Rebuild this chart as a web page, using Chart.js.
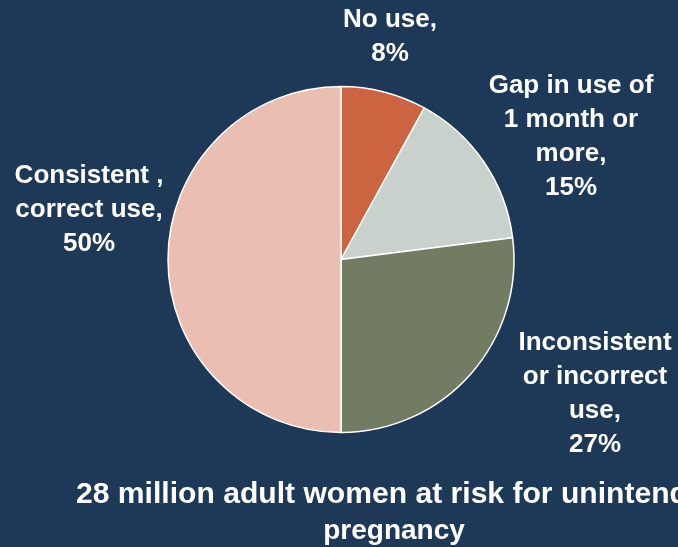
<!DOCTYPE html>
<html>
<head>
<meta charset="utf-8">
<script src="https://cdn.jsdelivr.net/npm/chart.js@4/dist/chart.umd.min.js"></script>
<style>
  html, body { margin: 0; padding: 0; background: #1e3957; }
  #wrap { width: 678px; height: 547px; position: relative; }
</style>
</head>
<body>
<div id="wrap"><canvas id="c" width="678" height="547"></canvas></div>
<script>
// Contraception use among adult women at risk for unintended pregnancy
const categories = [
  ["No use,"],
  ["Gap in use of", "1 month or", "more,"],
  ["Inconsistent", "or incorrect", "use,"],
  ["Consistent ,", "correct use,"]
];
const shares = [8, 15, 27, 50];
const sliceColors = ["#cd6441", "#c9d1cc", "#727c63", "#eabfb2"];
const titleLines = ["28 million adult women at risk for unintended", "pregnancy"];

// label anchors: centre x and baseline of first line
const labelAnchors = [
  { x: 390, y: 27 },
  { x: 571, y: 93 },
  { x: 595, y: 350 },
  { x: 89, y: 183 }
];
const LINE_H = 34;
const FONT = 'bold 26px "Liberation Sans", Arial, sans-serif';

const labelPlugin = {
  id: 'sliceLabels',
  afterDatasetsDraw(chart) {
    const ctx = chart.ctx;
    ctx.save();
    ctx.fillStyle = '#ffffff';
    ctx.font = FONT;
    ctx.textAlign = 'center';
    ctx.textBaseline = 'alphabetic';
    const values = chart.data.datasets[0].data;
    chart.data.labels.forEach((lines, i) => {
      const all = lines.concat([values[i] + '%']);
      const a = labelAnchors[i];
      all.forEach((t, k) => ctx.fillText(t, a.x, a.y + k * LINE_H));
    });
    ctx.restore();
  }
};

// two-line caption under the pie
const titlePlugin = {
  id: 'bottomTitle',
  afterDraw(chart) {
    const ctx = chart.ctx;
    ctx.save();
    ctx.fillStyle = '#ffffff';
    ctx.textBaseline = 'alphabetic';
    ctx.font = 'bold 30.1px "Liberation Sans", Arial, sans-serif';
    ctx.textAlign = 'left';
    ctx.fillText(titleLines[0], 76, 503);
    ctx.font = 'bold 28px "Liberation Sans", Arial, sans-serif';
    ctx.textAlign = 'center';
    ctx.fillText(titleLines[1], 394, 539);
    ctx.restore();
  }
};

new Chart(document.getElementById('c'), {
  type: 'pie',
  data: {
    labels: categories,
    datasets: [{
      data: shares,
      backgroundColor: sliceColors,
      borderColor: '#ffffff',
      borderWidth: 1.5,
      hoverOffset: 0,
      radius: 173
    }]
  },
  options: {
    responsive: false,
    animation: false,
    rotation: 0,
    layout: { padding: { left: 168, right: 164, top: 86, bottom: 114 } },
    plugins: {
      legend: { display: false },
      tooltip: { enabled: false },
      title: { display: false }
    }
  },
  plugins: [labelPlugin, titlePlugin]
});
</script>
</body>
</html>
